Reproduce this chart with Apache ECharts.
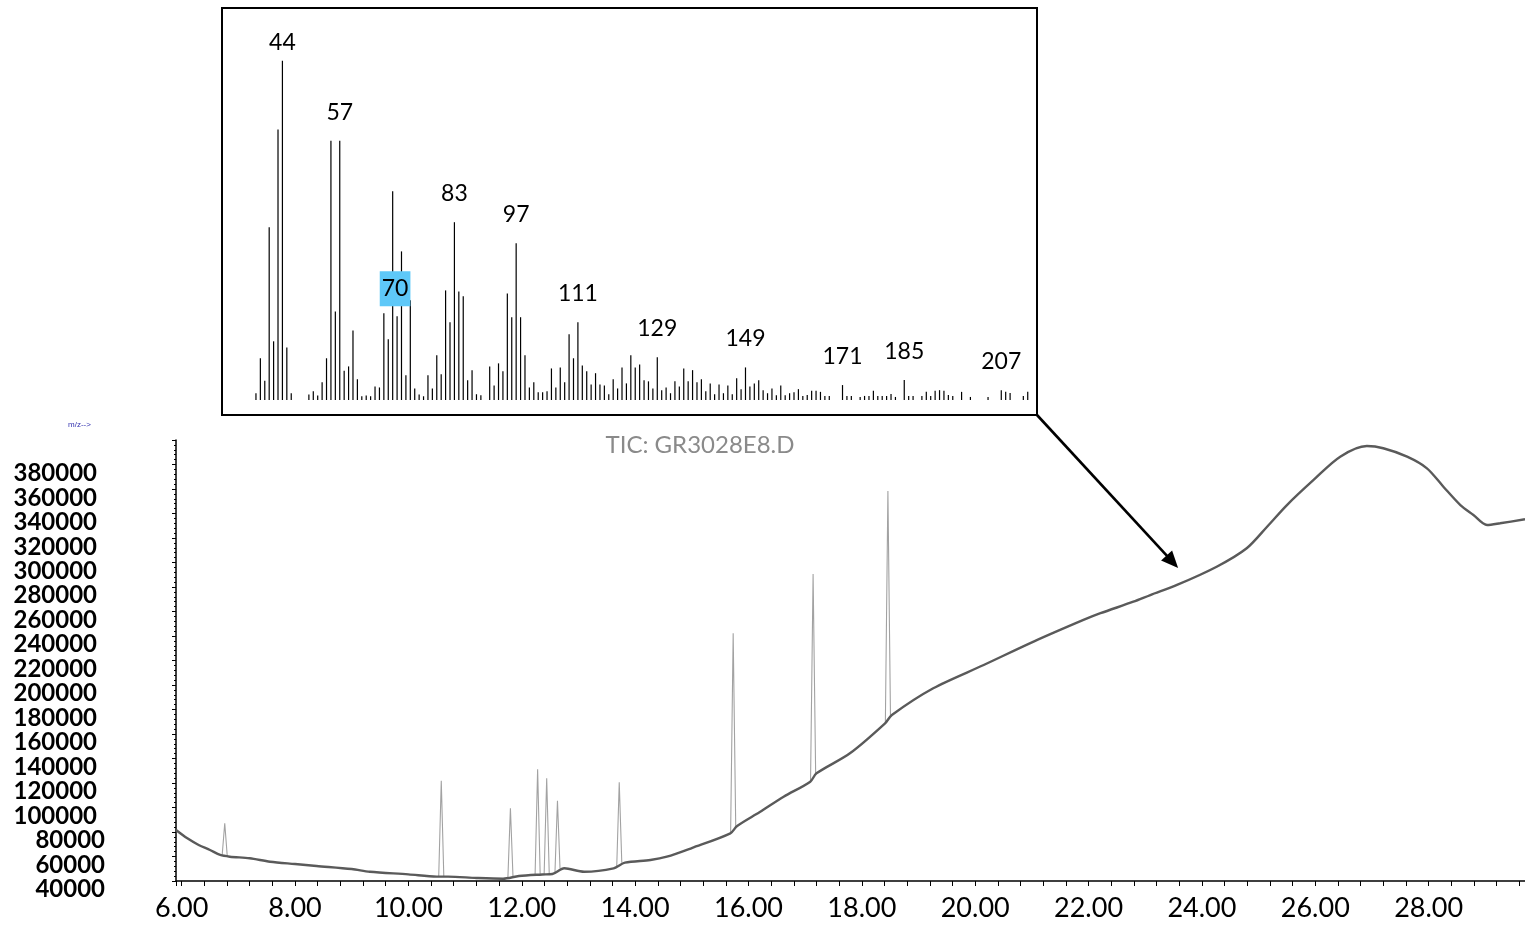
<!DOCTYPE html>
<html>
<head>
<meta charset="utf-8">
<title>TIC: GR3028E8.D</title>
<script src="https://cdn.jsdelivr.net/npm/echarts@6/dist/echarts.min.js"></script>
<style>
html, body { margin: 0; padding: 0; background: #fff; }
#chart { width: 1525px; height: 925px; }
</style>
</head>
<body>
<div id="chart"></div>
<script>
// TIC baseline, retention time (min) and abundance
var tic_time = [5.90, 6.10, 6.30, 6.50, 6.68, 6.85, 7.20, 7.56, 8.00, 8.38,
  9.00, 9.32, 10.00, 10.50, 10.70, 11.20, 11.67, 11.95, 12.36, 12.54,
  12.75, 13.10, 13.62, 13.82, 14.27, 14.56, 15.00, 15.68, 15.80, 16.20,
  16.62, 17.09, 17.20, 17.79, 18.41, 18.53, 19.26, 20.15, 21.03, 21.91,
  22.21, 22.79, 23.09, 23.56, 24.26, 24.79, 25.15, 25.50, 25.97, 26.44,
  26.91, 27.20, 27.62, 27.97, 28.26, 28.56, 28.79, 29.03, 29.26, 29.70];
var tic_base = [88600, 81800, 76400, 72300, 68200, 66800, 65500, 62700, 60800, 59200,
  56700, 54500, 52400, 50500, 50500, 49400, 48800, 51000, 52300, 52700,
  57300, 54500, 57300, 61900, 64100, 66800, 73900, 85900, 91900, 103300,
  115800, 128100, 134900, 151300, 175800, 182600, 204400, 223400, 242500, 260200,
  265700, 275100, 280600, 288800, 303700, 318800, 336400, 354100, 374600, 393600,
  402300, 400500, 393600, 384100, 369100, 354100, 346000, 337800, 339200, 342500];

// sharp peaks: apex time, apex height, foot before, foot after
var peak_time = [6.76, 10.58, 11.80, 12.28, 12.44, 12.63, 13.72, 15.73, 17.14, 18.46];
var peak_top = [94100, 128900, 106300, 138200, 130900, 112500, 127600, 249300, 297800, 365600];
var peak_before = [68200, 50500, 48800, 51000, 52300, 52700, 57300, 85900, 128100, 175800];
var peak_after = [66800, 50500, 51000, 52300, 52700, 57300, 61900, 91900, 134900, 182600];
var peak_halfwidth = 0.045;

// tick labels
var x_labels = ['6.00', '8.00', '10.00', '12.00', '14.00', '16.00', '18.00', '20.00', '22.00', '24.00', '26.00', '28.00'];
var y_labels = [40000, 60000, 80000, 100000, 120000, 140000, 160000, 180000, 200000,
  220000, 240000, 260000, 280000, 300000, 320000, 340000, 360000, 380000];

// mass spectrum (inset), relative abundance %
var ms_mz = [38, 39, 40, 41, 42, 43, 44, 45, 46,
  50, 51, 52, 53, 54, 55, 56, 57, 58, 59, 60, 61, 62, 63, 64, 65, 66, 67, 68, 69, 70,
  71, 72, 73, 74, 75, 76, 77, 78, 79, 80, 81, 82, 83, 84, 85, 86, 87, 88, 89,
  91, 92, 93, 94, 95, 96, 97, 98, 99, 100, 101, 102, 103, 104, 105, 106, 107, 108, 109, 110,
  111, 112, 113, 114, 115, 116, 117, 118, 119, 120, 121, 122, 123, 124, 125, 126, 127, 128, 129, 130,
  131, 132, 133, 134, 135, 136, 137, 138, 139, 140, 141, 142, 143, 144, 145, 146, 147, 148, 149, 150,
  151, 152, 153, 154, 155, 156, 157, 158, 159, 160, 161, 162, 163, 164, 165, 166, 167, 168,
  171, 172, 173, 175, 176, 177, 178, 179, 180, 181, 182, 183,
  185, 186, 187, 189, 190, 191, 192, 193, 194, 195, 196, 198, 200, 204, 207, 208, 209, 212, 213];
var ms_abund = [2.0, 12.3, 5.7, 50.9, 17.3, 79.7, 100, 15.5, 2.0,
  1.6, 2.6, 1.3, 5.2, 12.3, 76.4, 26.1, 76.4, 8.6, 9.9, 20.5, 6.1, 1.1, 1.3, 1.1, 4.0, 3.7, 25.6, 17.9, 61.5, 24.7,
  43.8, 7.3, 29.4, 3.4, 1.6, 1.1, 7.3, 3.4, 13.2, 7.6, 32.3, 22.9, 52.4, 32.0, 30.6, 5.8, 8.8, 1.7, 1.4,
  9.9, 4.3, 10.8, 8.5, 31.4, 24.4, 46.2, 24.4, 13.2, 3.7, 5.2, 2.3, 2.3, 2.6, 9.3, 3.7, 9.6, 5.2, 19.4, 12.3,
  22.9, 10.2, 8.5, 4.6, 7.9, 4.6, 4.3, 1.7, 6.1, 3.4, 9.6, 4.9, 13.2, 9.6, 10.5, 5.8, 5.5, 3.4, 12.6, 2.9,
  3.7, 2.0, 5.5, 4.0, 9.3, 5.5, 8.8, 5.2, 6.1, 2.6, 4.9, 1.7, 4.6, 2.0, 4.3, 1.7, 6.4, 3.2, 9.6, 4.0,
  4.9, 5.8, 2.9, 2.0, 3.4, 1.4, 4.3, 1.4, 2.0, 2.3, 3.2, 1.2, 1.5, 2.7, 2.7, 2.4, 1.2, 1.2,
  4.4, 1.2, 1.2, 0.9, 1.2, 1.2, 2.7, 1.2, 1.2, 1.2, 1.8, 0.9,
  5.9, 1.2, 1.2, 1.2, 2.4, 1.2, 2.7, 2.9, 2.7, 1.5, 1.2, 2.4, 0.9, 0.9, 2.9, 2.4, 2.1, 1.2, 2.4];
var ms_marked = [44, 57, 70, 83, 97, 111, 129, 149, 171, 185, 207];

// where the arrow from the inset points on the trace
var arrow_target = [23.58, 302700];

var myChart = echarts.init(document.getElementById('chart'));

function peakLabel(m) {
  var lab = {
    show: true, position: 'top', distance: 17, formatter: String(m),
    color: '#000', fontFamily: 'Lato', fontSize: 23, lineHeight: 23
  };
  if (m === 44) lab.distance = 7;
  if (m === 70) {
    lab.distance = 10;
    lab.offset = [-2, 0];
    lab.backgroundColor = '#5ec8f8';
    lab.padding = [6, 2];
  }
  return lab;
}

var msData = ms_mz.map(function (m, i) {
  var item = { value: [m, ms_abund[i]] };
  if (ms_marked.indexOf(m) >= 0) item.label = peakLabel(m);
  return item;
});

var series = [
  {
    name: 'TIC',
    type: 'line',
    xAxisIndex: 1, yAxisIndex: 1,
    data: tic_time.map(function (t, i) { return [t, tic_base[i]]; }),
    showSymbol: false,
    smooth: 0.3,
    lineStyle: { color: '#5a5a5a', width: 2.4 },
    z: 3
  },
  {
    name: 'spectrum',
    type: 'bar',
    xAxisIndex: 2, yAxisIndex: 2,
    barWidth: 1.2,
    itemStyle: { color: '#000' },
    data: msData,
    z: 6
  }
];
for (var i = 0; i < peak_time.length; i++) {
  series.push({
    type: 'line',
    xAxisIndex: 1, yAxisIndex: 1,
    data: [[peak_time[i] - peak_halfwidth, peak_before[i]], [peak_time[i], peak_top[i]], [peak_time[i] + peak_halfwidth, peak_after[i]]],
    showSymbol: false,
    lineStyle: { color: '#a2a2a2', width: 1.1 },
    z: 2
  });
}

var option = {
  backgroundColor: '#fff',
  animation: false,
  title: {
    text: 'TIC: GR3028E8.D',
    left: 700, top: 433, textAlign: 'center', padding: 0,
    textStyle: { fontFamily: 'Lato', fontSize: 24, fontWeight: 'normal', color: '#8a8a8a' }
  },
  grid: [
    { left: 176, right: 0, top: 440, bottom: 44 },
    { left: 176, right: 0, top: 440, bottom: 35.5 },
    { left: 222, top: 8, width: 815, height: 407, show: true, borderColor: '#000', borderWidth: 2, backgroundColor: '#fff' }
  ],
  xAxis: [
    {
      gridIndex: 0, type: 'value', min: 5.9, max: 29.7, splitNumber: 12,
      axisLine: { onZero: false, lineStyle: { color: '#000', width: 1.5 } },
      axisTick: { length: 5, lineStyle: { color: '#000' } },
      minorTick: { show: true, splitNumber: 5, length: 5, lineStyle: { color: '#000' } },
      splitLine: { show: false },
      axisLabel: {
        showMinLabel: false, showMaxLabel: false, margin: 14,
        fontFamily: 'Lato', fontSize: 27, color: '#000',
        formatter: function (v) {
          var s = v.toFixed(2);
          return x_labels.indexOf(s) >= 0 ? s : '';
        }
      }
    },
    { gridIndex: 1, type: 'value', min: 5.9, max: 29.7, show: false },
    { gridIndex: 2, type: 'value', min: 30.3, max: 215.1, show: false }
  ],
  yAxis: [
    {
      gridIndex: 0, type: 'value', min: 0, max: 18, interval: 1,
      axisLine: { show: true, onZero: false, lineStyle: { color: '#000', width: 1.5 } },
      axisTick: { show: true, length: 4, lineStyle: { color: '#000' } },
      minorTick: { show: true, splitNumber: 5, length: 2, lineStyle: { color: '#000' } },
      splitLine: { show: false },
      axisLabel: { show: false }
    },
    {
      gridIndex: 1, type: 'value', min: 40000, max: 407240, interval: 20000,
      axisLine: { show: false }, axisTick: { show: false }, splitLine: { show: false },
      axisLabel: {
        margin: 71, fontFamily: 'Lato', fontWeight: 'bold', fontSize: 24, color: '#000',
        formatter: function (v) {
          if (y_labels.indexOf(v) < 0) return '';
          return v >= 100000 ? '{w|' + v + '}' : String(v);
        },
        rich: { w: { padding: [0, 8, 0, 0], fontFamily: 'Lato', fontWeight: 'bold', fontSize: 24, color: '#000' } }
      }
    },
    { gridIndex: 2, type: 'value', min: -4.42, max: 115.53, show: false }
  ],
  series: series
};

myChart.setOption(option);

// arrow from the inset corner down to the trace
var p0 = myChart.convertToPixel({ gridIndex: 2 }, [215.1, -4.42]);
var p1 = myChart.convertToPixel({ gridIndex: 1 }, arrow_target);
var dx = p1[0] - p0[0], dy = p1[1] - p0[1];
var len = Math.sqrt(dx * dx + dy * dy);
var ux = dx / len, uy = dy / len;
var headLen = 17, headHalf = 7.5;
var bx = p1[0] - ux * headLen, by = p1[1] - uy * headLen;

myChart.setOption({
  graphic: [
    {
      type: 'text', left: 68, top: 421,
      style: { text: 'm/z-->', fill: '#3434b0', font: '8px "Liberation Sans"' }
    },
    {
      type: 'line', z: 20,
      shape: { x1: p0[0], y1: p0[1], x2: bx + ux * 2, y2: by + uy * 2 },
      style: { stroke: '#000', lineWidth: 2.6 }
    },
    {
      type: 'polygon', z: 20,
      shape: { points: [[p1[0], p1[1]], [bx - uy * headHalf, by + ux * headHalf], [bx + uy * headHalf, by - ux * headHalf]] },
      style: { fill: '#000' }
    }
  ]
});

window.addEventListener('resize', function () {
  myChart.resize();
});
</script>
</body>
</html>
